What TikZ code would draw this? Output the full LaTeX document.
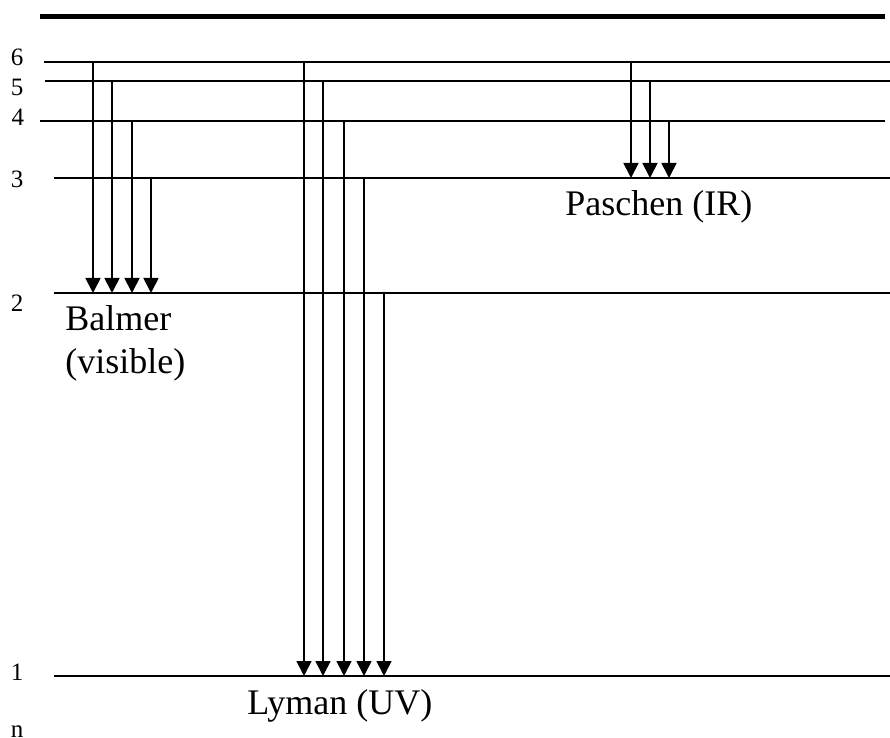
\documentclass[tikz,border=0pt]{standalone}
\usepackage{fontspec}
\setmainfont{Liberation Serif}
\usetikzlibrary{arrows.meta, positioning}

\tikzset{
  level/.style={line width=1pt},
  trans/.style={line width=0.9pt, -{Triangle[width=7.5pt,length=7.5pt]}},
  nlabel/.style={font=\fontsize{12.5}{15}\selectfont, inner sep=0pt},
  series/.style={font=\fontsize{18}{21.5}\selectfont, inner sep=0pt, anchor=base west}
}

\begin{document}
\begin{tikzpicture}[x=0.5pt, y=-0.5pt]
\useasboundingbox (0,0) rectangle (890,738);
% ionisation limit
\draw [line width=2.5pt] (40,17) -- (885,17);
% energy levels n = 1..6
\foreach \n/\y/\xa/\xb in {6/62/44/890, 5/81/45/890, 4/121.5/40/885, 3/178/54/890, 2/293/54/890, 1/676/54/890} {
  \coordinate (n\n) at (\xa,\y);
  \draw [level] (n\n) -- (\xb,\y);
}
\begin{scope}[every node/.style={nlabel}]
\node (l6) at (17,57)  {6};
\node (l5) at (17,87)  {5};
\node (l4) at (18,117) {4};
\node (l3) at (17,179) {3};
\node (l2) at (17,303) {2};
\node (l1) at (17,672) {1};
\node [anchor=base] (ln) at (17,737) {n};
\end{scope}
% Lyman
\foreach \x/\f in {304/6, 323/5, 344/4, 364/3, 384/2}
  \draw [trans] (\x,0 |- n\f) -- (\x,0 |- n1);
% Balmer
\foreach \x/\f in {93/6, 112/5, 132/4, 151/3}
  \draw [trans] (\x,0 |- n\f) -- (\x,0 |- n2);
% Paschen
\foreach \x/\f in {631/6, 650/5, 669/4}
  \draw [trans] (\x,0 |- n\f) -- (\x,0 |- n3);
\node [series] (balmer) at (65,330) {Balmer};
\node [series] (visible) at (65,373) {(visible)};
\node [series] (paschen) at (565,216) {Paschen (IR)};
\node [series] (lyman) at (247,714) {Lyman (UV)};
\end{tikzpicture}
\end{document}
